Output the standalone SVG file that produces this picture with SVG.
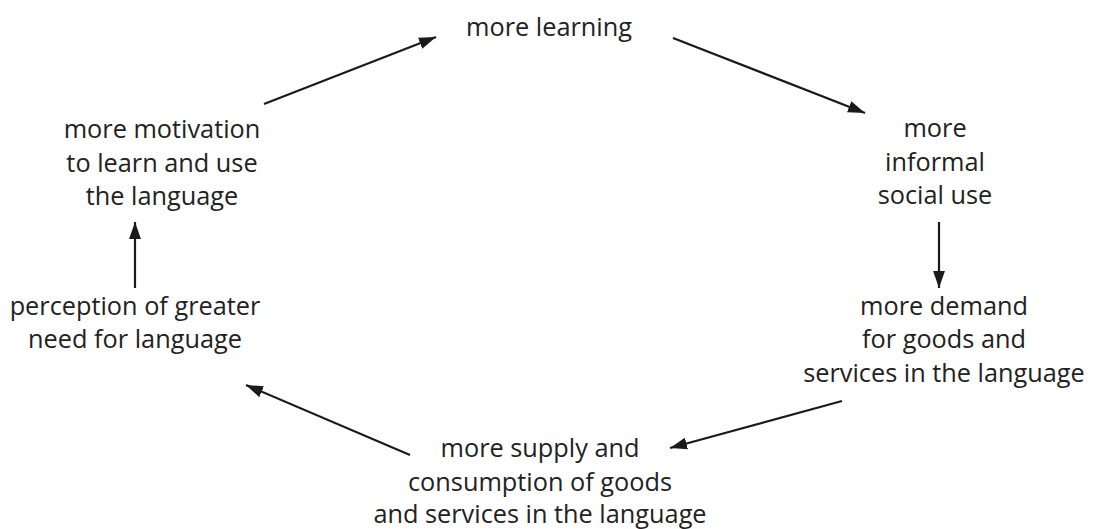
<svg xmlns="http://www.w3.org/2000/svg" width="1093" height="529" viewBox="0 0 1093 529">
<style>
text{font-family:"Open Sans","Noto Sans","Liberation Sans",sans-serif;font-size:25.3px;fill:#222;text-anchor:middle}
.c{stroke:#1a1a1a;stroke-width:2.2;fill:none}
</style>
<defs>
<marker id="ah" viewBox="0 0 10 10" refX="10" refY="5" markerWidth="17" markerHeight="17" markerUnits="userSpaceOnUse" orient="auto">
<path d="M0,1.5 L10,5 L0,8.5 Z" fill="#1a1a1a"/>
</marker>
</defs>
<rect width="1093" height="529" fill="#fff"/>
<g id="connectors">
<line class="c" x1="264" y1="104" x2="436" y2="37" marker-end="url(#ah)"/>
<line class="c" x1="673" y1="38" x2="865" y2="113" marker-end="url(#ah)"/>
<line class="c" x1="939" y1="222" x2="939" y2="288" marker-end="url(#ah)"/>
<line class="c" x1="842" y1="401" x2="670" y2="448" marker-end="url(#ah)"/>
<line class="c" x1="410" y1="455" x2="246" y2="385" marker-end="url(#ah)"/>
<line class="c" x1="135" y1="288" x2="135" y2="222" marker-end="url(#ah)"/>
</g>
<g id="n1"><text x="549" y="36">more learning</text></g>
<g id="n2"><text x="935" y="137">more</text><text x="935" y="171">informal</text><text x="935" y="204">social use</text></g>
<g id="n3"><text x="944" y="315">more demand</text><text x="944" y="348">for goods and</text><text x="944" y="382">services in the language</text></g>
<g id="n4"><text x="540" y="457">more supply and</text><text x="540" y="491">consumption of goods</text><text x="540" y="523">and services in the language</text></g>
<g id="n5"><text x="135" y="315">perception of greater</text><text x="135" y="348">need for language</text></g>
<g id="n6"><text x="162" y="138">more motivation</text><text x="162" y="172">to learn and use</text><text x="162" y="205">the language</text></g>
</svg>
